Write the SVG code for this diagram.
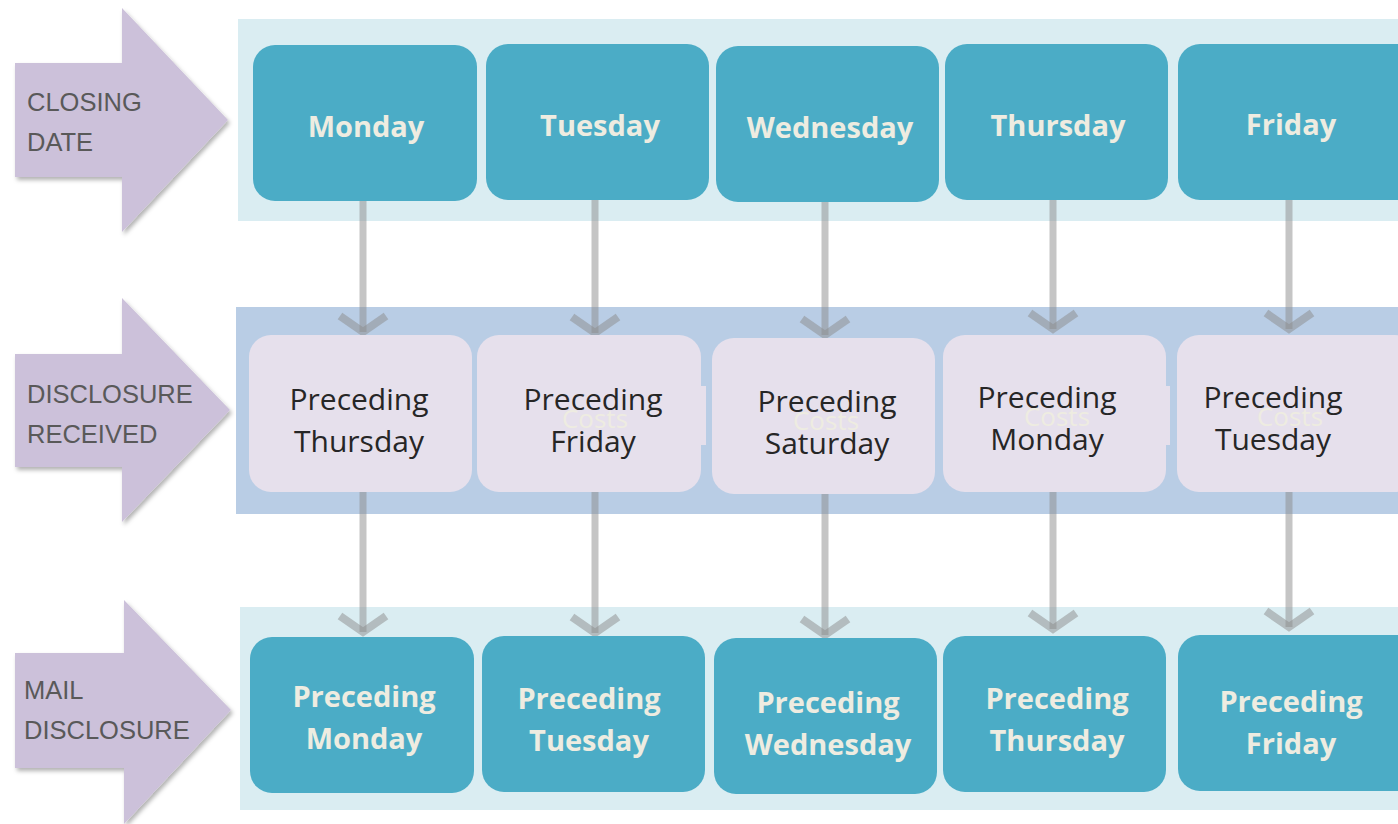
<svg xmlns="http://www.w3.org/2000/svg" width="1398" height="824" viewBox="0 0 1398 824">
<defs>
<filter id="sh" x="-10%" y="-10%" width="130%" height="130%"><feDropShadow dx="2" dy="3" stdDeviation="2" flood-color="#000" flood-opacity="0.3"/></filter>
<style>
.arrow{fill:#CCC1DA;filter:url(#sh)}
.lab{font-family:"Liberation Sans",Arial,sans-serif;font-size:25.5px;fill:#595959}
.band1{fill:#DAEDF2}
.band2{fill:#B9CDE5}
.dark{fill:#4BACC6}
.light{fill:#E6E0EC}
.tb{font-family:"Open Sans","Liberation Sans",sans-serif;font-size:29px;font-weight:bold;fill:#EEECE1;text-anchor:middle}
.tm{font-family:"Open Sans","Liberation Sans",sans-serif;font-size:30px;fill:#262626;text-anchor:middle}
.ghost{font-family:"Open Sans","Liberation Sans",sans-serif;font-size:26px;fill:#EEECE1;text-anchor:middle}
.ln{stroke:#8C8C8C;stroke-opacity:0.5;stroke-width:7;fill:none}
.chev{stroke:#8C8C8C;stroke-opacity:0.5;stroke-width:8;fill:none}
</style>
</defs>
<rect width="1398" height="824" fill="#fff"/>
<g id="bands">
<rect class="band1" x="238" y="19" width="1160" height="202"/>
<rect class="band2" x="236" y="307" width="1162" height="207"/>
<rect class="band1" x="240" y="607" width="1158" height="203"/>
</g>
<g id="row-labels">
<g id="lbl-closing">
<polygon class="arrow" points="15,63 122,63 122,8 228,120 122,232 122,177 15,177"/>
<text class="lab" x="27" y="111">CLOSING</text>
<text class="lab" x="27" y="151">DATE</text>
</g>
<g id="lbl-received">
<polygon class="arrow" points="15,354 122,354 122,298 230,410 122,522 122,467 15,467"/>
<text class="lab" x="27" y="403">DISCLOSURE</text>
<text class="lab" x="27" y="443">RECEIVED</text>
</g>
<g id="lbl-mail">
<polygon class="arrow" points="15,653 124,653 124,600 231,710 124,824 124,768 15,768"/>
<text class="lab" x="24" y="699">MAIL</text>
<text class="lab" x="24" y="739">DISCLOSURE</text>
</g>
</g>
<g id="connectors">
<line class="ln" x1="363" y1="201" x2="363" y2="332"/>
<polyline class="chev" points="340,316 363,332 386,316"/>
<line class="ln" x1="595" y1="200" x2="595" y2="333"/>
<polyline class="chev" points="572,317 595,333 618,317"/>
<line class="ln" x1="825" y1="202" x2="825" y2="335"/>
<polyline class="chev" points="802,319 825,335 848,319"/>
<line class="ln" x1="1053" y1="200" x2="1053" y2="329"/>
<polyline class="chev" points="1030,313 1053,329 1076,313"/>
<line class="ln" x1="1289" y1="200" x2="1289" y2="329"/>
<polyline class="chev" points="1266,313 1289,329 1312,313"/>
<line class="ln" x1="363" y1="492" x2="363" y2="632"/>
<polyline class="chev" points="340,616 363,632 386,616"/>
<line class="ln" x1="595" y1="492" x2="595" y2="633"/>
<polyline class="chev" points="572,617 595,633 618,617"/>
<line class="ln" x1="825" y1="494" x2="825" y2="635"/>
<polyline class="chev" points="802,619 825,635 848,619"/>
<line class="ln" x1="1053" y1="492" x2="1053" y2="629"/>
<polyline class="chev" points="1030,613 1053,629 1076,613"/>
<line class="ln" x1="1289" y1="492" x2="1289" y2="627"/>
<polyline class="chev" points="1266,611 1289,627 1312,611"/>
</g>
<g id="top-row">
<g id="close-mon"><rect class="dark" x="253" y="45" width="224" height="156" rx="22"/><text class="tb" x="366" y="137">Monday</text></g>
<g id="close-tue"><rect class="dark" x="486" y="44" width="223" height="156" rx="22"/><text class="tb" x="600" y="136">Tuesday</text></g>
<g id="close-wed"><rect class="dark" x="716" y="46" width="223" height="156" rx="22"/><text class="tb" x="830" y="138">Wednesday</text></g>
<g id="close-thu"><rect class="dark" x="945" y="44" width="223" height="156" rx="22"/><text class="tb" x="1058" y="136">Thursday</text></g>
<g id="close-fri"><rect class="dark" x="1178" y="44" width="240" height="156" rx="22"/><text class="tb" x="1291" y="135">Friday</text></g>
</g>
<g id="middle-row">
<g id="recv-thu"><rect class="light" x="249" y="335" width="223" height="157" rx="22"/><text class="tm" x="359" y="410">Preceding</text><text class="tm" x="359" y="452">Thursday</text></g>
<g id="recv-fri"><rect class="light" x="477" y="335" width="224" height="157" rx="22"/><rect class="light" x="699" y="386" width="7" height="59"/><text class="ghost" x="595" y="428">Costs</text><text class="tm" x="593" y="410">Preceding</text><text class="tm" x="593" y="452">Friday</text></g>
<g id="recv-sat"><rect class="light" x="712" y="338" width="223" height="156" rx="22"/><text class="ghost" x="826" y="430">Costs</text><text class="tm" x="827" y="412">Preceding</text><text class="tm" x="827" y="454">Saturday</text></g>
<g id="recv-mon"><rect class="light" x="943" y="335" width="223" height="157" rx="22"/><rect class="light" x="1164" y="386" width="6" height="59"/><text class="ghost" x="1057" y="426">Costs</text><text class="tm" x="1047" y="408">Preceding</text><text class="tm" x="1047" y="450">Monday</text></g>
<g id="recv-tue"><rect class="light" x="1177" y="335" width="240" height="157" rx="22"/><text class="ghost" x="1290" y="426">Costs</text><text class="tm" x="1273" y="408">Preceding</text><text class="tm" x="1273" y="450">Tuesday</text></g>
</g>
<g id="bottom-row">
<g id="mail-mon"><rect class="dark" x="250" y="637" width="224" height="156" rx="22"/><text class="tb" x="364" y="707">Preceding</text><text class="tb" x="364" y="749">Monday</text></g>
<g id="mail-tue"><rect class="dark" x="482" y="636" width="223" height="156" rx="22"/><text class="tb" x="589" y="709">Preceding</text><text class="tb" x="589" y="751">Tuesday</text></g>
<g id="mail-wed"><rect class="dark" x="714" y="638" width="223" height="156" rx="22"/><text class="tb" x="828" y="713">Preceding</text><text class="tb" x="828" y="755">Wednesday</text></g>
<g id="mail-thu"><rect class="dark" x="943" y="636" width="223" height="156" rx="22"/><text class="tb" x="1057" y="709">Preceding</text><text class="tb" x="1057" y="751">Thursday</text></g>
<g id="mail-fri"><rect class="dark" x="1178" y="635" width="240" height="156" rx="22"/><text class="tb" x="1291" y="712">Preceding</text><text class="tb" x="1291" y="754">Friday</text></g>
</g>
</svg>
